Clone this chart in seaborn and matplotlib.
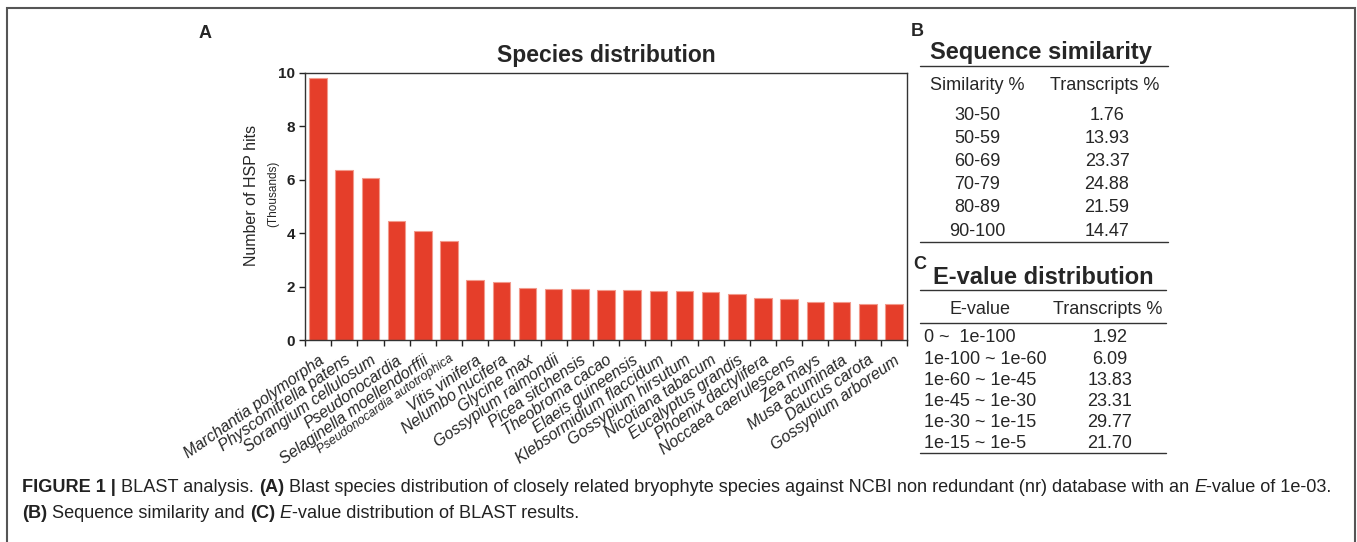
import matplotlib
matplotlib.use("Agg")
import matplotlib.pyplot as plt
import matplotlib.patches as patches
import numpy as np
import pandas as pd
import seaborn as sns

# Panel A data (thousands of HSP hits)
species = ["Marchantia polymorpha", "Physcomitrella patens", "Sorangium cellulosum",
           "Pseudonocardia", "Selaginella moellendorffii", "Pseudonocardia autotrophica",
           "Vitis vinifera", "Nelumbo nucifera", "Glycine max", "Gossypium raimondii",
           "Picea sitchensis", "Theobroma cacao", "Elaeis guineensis",
           "Klebsormidium flaccidum", "Gossypium hirsutum", "Nicotiana tabacum",
           "Eucalyptus grandis", "Phoenix dactylifera", "Noccaea caerulescens",
           "Zea mays", "Musa acuminata", "Daucus carota", "Gossypium arboreum"]
hits = [9.81, 6.36, 6.05, 4.45, 4.10, 3.70, 2.25, 2.18, 1.95, 1.91, 1.91, 1.88,
        1.86, 1.85, 1.83, 1.78, 1.73, 1.56, 1.55, 1.44, 1.43, 1.36, 1.36]

# Panel B data
sim_ranges = ["30-50", "50-59", "60-69", "70-79", "80-89", "90-100"]
sim_pct = ["1.76", "13.93", "23.37", "24.88", "21.59", "14.47"]

# Panel C data
eval_ranges = ["0 ~  1e-100", "1e-100 ~ 1e-60", "1e-60 ~ 1e-45",
               "1e-45 ~ 1e-30", "1e-30 ~ 1e-15", "1e-15 ~ 1e-5"]
eval_pct = ["1.92", "6.09", "13.83", "23.31", "29.77", "21.70"]

W, H = 1357, 542
sns.set_style("ticks")
plt.rcParams["font.family"] = ["Liberation Sans", "DejaVu Sans"]

fig = plt.figure(figsize=(W / 100, H / 100), dpi=100)


def fx(px):
    return px / W


def fy(py):
    return 1 - py / H


# outer frame
fig.add_artist(patches.Rectangle((fx(7), fy(560)), fx(1348), fy(8) - fy(560),
                                 transform=fig.transFigure, fill=False,
                                 edgecolor="#555555", linewidth=1.5))

# ---- Panel A ----
ax = fig.add_axes([fx(305), fy(340), fx(907) - fx(305), fy(73) - fy(340)])
df = pd.DataFrame({"Species": species, "Hits": hits})
sns.barplot(data=df, x="Species", y="Hits", color="#e53e2a", saturation=1,
            width=0.67, edgecolor="#f29a8c", linewidth=0.8, ax=ax)
ax.set_xlim(-0.5, len(species) - 0.5)
ax.set_ylim(0, 10)
ax.set_yticks([0, 2, 4, 6, 8, 10])
ax.set_yticklabels(["0", "2", "4", "6", "8", "10"], fontweight="bold", fontsize=11)
ax.tick_params(axis="y", length=4, width=1, colors="#222222", pad=3)
ax.set_xticks(np.arange(len(species)))
ax.set_xticklabels(species, rotation=35, ha="right", rotation_mode="anchor",
                   style="italic", fontsize=11.5)
for lab in ax.get_xticklabels():
    if lab.get_text() == "Pseudonocardia autotrophica":
        lab.set_fontsize(9)
ax.tick_params(axis="x", which="major", length=0, pad=9)
ax.set_xticks(np.arange(len(species) + 1) - 0.5, minor=True)
ax.tick_params(axis="x", which="minor", length=4, width=1, color="#222222")
for s in ax.spines.values():
    s.set_visible(True)
    s.set_color("#333333")
    s.set_linewidth(1)
ax.set_xlabel("")
ax.set_ylabel("")
ax.set_title("Species distribution", fontsize=16.5, fontweight="bold", pad=8)
fig.text(fx(251), fy(195), "Number of HSP hits", rotation=90, ha="center",
         va="center", fontsize=11.5)
fig.text(fx(273), fy(194), "(Thousands)", rotation=90, ha="center",
         va="center", fontsize=8.5)
fig.text(fx(205), fy(33), "A", fontsize=13, fontweight="bold", ha="center", va="center")

# ---- Panel B ----
fig.text(fx(917), fy(32), "B", fontsize=13, fontweight="bold", ha="center", va="center")
fig.text(fx(1041), fy(52), "Sequence similarity", fontsize=17, fontweight="bold",
         ha="center", va="center")
for y in (66, 242):
    fig.add_artist(plt.Line2D([fx(920), fx(1168)], [fy(y), fy(y)],
                              transform=fig.transFigure, color="#333333", lw=1))
fig.text(fx(977), fy(85), "Similarity %", fontsize=13, ha="center", va="center")
fig.text(fx(1105), fy(85), "Transcripts %", fontsize=13, ha="center", va="center")
for i, (r, p) in enumerate(zip(sim_ranges, sim_pct)):
    y = 115 + i * 23.2
    fig.text(fx(977), fy(y), r, fontsize=13, ha="center", va="center")
    fig.text(fx(1107), fy(y), p, fontsize=13, ha="center", va="center")

# ---- Panel C ----
fig.text(fx(920), fy(265), "C", fontsize=13, fontweight="bold", ha="center", va="center")
fig.text(fx(1043), fy(278), "E-value distribution", fontsize=17, fontweight="bold",
         ha="center", va="center")
for y in (290, 323, 453):
    fig.add_artist(plt.Line2D([fx(920), fx(1166)], [fy(y), fy(y)],
                              transform=fig.transFigure, color="#333333", lw=1))
fig.text(fx(980), fy(309), "E-value", fontsize=13, ha="center", va="center")
fig.text(fx(1108), fy(309), "Transcripts %", fontsize=13, ha="center", va="center")
for i, (r, p) in enumerate(zip(eval_ranges, eval_pct)):
    y = 338 + i * 21.2
    fig.text(fx(924), fy(y), r, fontsize=13, ha="left", va="center")
    fig.text(fx(1110), fy(y), p, fontsize=13, ha="center", va="center")

# ---- Caption ----
renderer = fig.canvas.get_renderer()


def caption_line(pieces, x0, y0, size=13.1):
    x = x0
    for txt, weight, style in pieces:
        t = fig.text(fx(x), fy(y0), txt, fontsize=size, fontweight=weight,
                     style=style, ha="left", va="center", color="#222222")
        x += t.get_window_extent(renderer).width


caption_line([("FIGURE 1 |", "bold", "normal"),
              (" BLAST analysis. ", "normal", "normal"),
              ("(A)", "bold", "normal"),
              (" Blast species distribution of closely related bryophyte species "
               "against NCBI non redundant (nr) database with an ", "normal", "normal"),
              ("E", "normal", "italic"),
              ("-value of 1e-03.", "normal", "normal")], 22, 488)
caption_line([("(B)", "bold", "normal"),
              (" Sequence similarity and ", "normal", "normal"),
              ("(C)", "bold", "normal"),
              (" ", "normal", "normal"),
              ("E", "normal", "italic"),
              ("-value distribution of BLAST results.", "normal", "normal")], 22, 513)

fig.savefig("out.png", dpi=100)
